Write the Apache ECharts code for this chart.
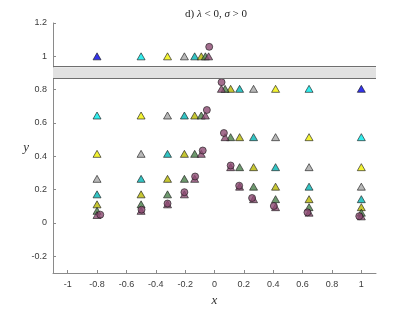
<!DOCTYPE html>
<html>
<head>
<meta charset="utf-8">
<script src="https://cdn.jsdelivr.net/npm/echarts@6/dist/echarts.min.js"></script>
<style>html,body{margin:0;padding:0;background:#fff;}#c{width:415px;height:312px;}</style>
</head>
<body>
<div id="c"></div>
<script>
// Tick labels
const xTicks = [-1, -0.8, -0.6, -0.4, -0.2, 0, 0.2, 0.4, 0.6, 0.8, 1];
const yTicks = [-0.2, 0, 0.2, 0.4, 0.6, 0.8, 1, 1.2];
// Shaded band (y range)
const bandY = [0.87, 0.935];

// Series values as [x, y] pairs (triangles, one series per colour)
const s0Blue = [[-0.8, 1.0], [1.0, 0.805]];
const s1Cyan = [[-0.8, 0.645], [-0.5, 1.0], [1.0, 0.515], [0.644, 0.805]];
const s2Yellow = [[-0.8, 0.415], [-0.5, 0.645], [-0.32, 1.0], [1.0, 0.335], [0.644, 0.515], [0.416, 0.805]];
const s3Gray = [[-0.8, 0.265], [-0.5, 0.415], [-0.32, 0.645], [-0.205, 1.0], [1.0, 0.218], [0.644, 0.335], [0.416, 0.515], [0.266, 0.805]];
const s4Teal = [[-0.8, 0.172], [-0.5, 0.265], [-0.32, 0.415], [-0.205, 0.645], [-0.135, 1.0], [1.0, 0.143], [0.644, 0.218], [0.416, 0.335], [0.266, 0.515], [0.171, 0.805]];
const s5Olive = [[-0.8, 0.112], [-0.5, 0.172], [-0.32, 0.265], [-0.205, 0.415], [-0.135, 0.645], [-0.09, 1.0], [1.0, 0.095], [0.644, 0.143], [0.416, 0.218], [0.266, 0.335], [0.171, 0.515], [0.11, 0.805]];
const s6Green = [[-0.8, 0.073], [-0.5, 0.112], [-0.32, 0.172], [-0.205, 0.265], [-0.135, 0.415], [-0.09, 0.645], [-0.062, 1.0], [1.0, 0.062], [0.644, 0.095], [0.416, 0.143], [0.266, 0.218], [0.171, 0.335], [0.11, 0.515], [0.072, 0.805]];
const s7Purple = [[-0.8, 0.048], [-0.5, 0.073], [-0.32, 0.112], [-0.205, 0.172], [-0.135, 0.265], [-0.09, 0.415], [-0.062, 0.645], [-0.04, 1.0], [1.0, 0.04], [0.644, 0.062], [0.416, 0.095], [0.266, 0.143], [0.171, 0.218], [0.11, 0.335], [0.072, 0.515], [0.047, 0.805]];
// Purple circles
const circles = [[-0.036, 1.057], [-0.052, 0.678], [-0.08, 0.435], [-0.132, 0.279], [-0.205, 0.185], [-0.32, 0.117], [-0.497, 0.08], [-0.778, 0.05],
  [0.048, 0.845], [0.064, 0.54], [0.11, 0.345], [0.168, 0.224], [0.256, 0.15], [0.404, 0.102], [0.633, 0.064], [0.986, 0.041]];

const triSeries = [
  {data: s0Blue, color: '#0000e6'},
  {data: s1Cyan, color: '#00eaea'},
  {data: s2Yellow, color: '#f0f000'},
  {data: s3Gray, color: '#a6a6a6'},
  {data: s4Teal, color: '#00b5b5'},
  {data: s5Olive, color: '#b8b800'},
  {data: s6Green, color: '#4a7f4a'},
  {data: s7Purple, color: '#8c4a72'}
];

const fmt = v => String(Math.round(v * 10) / 10);
const labelColor = '#3a3a3a';
const axisColor = '#8a8a8a';

const series = [];
series.push({
  type: 'scatter', data: [], silent: true,
  markArea: {silent: true, itemStyle: {color: '#e1e1e1'}, data: [[{yAxis: bandY[0]}, {yAxis: bandY[1]}]]},
  markLine: {silent: true, symbol: 'none', label: {show: false}, lineStyle: {color: '#6e6e6e', width: 1, type: 'solid'},
    data: [{yAxis: bandY[0]}, {yAxis: bandY[1]}], animation: false}
});
triSeries.forEach(s => series.push({
  type: 'scatter', data: s.data, symbol: 'triangle', symbolSize: [8, 7],
  itemStyle: {color: s.color, borderColor: '#1a1a1a', borderWidth: 0.8}
}));
series.push({
  type: 'scatter', data: circles, symbol: 'circle', symbolSize: 7,
  itemStyle: {color: '#8c4a72', borderColor: '#1a1a1a', borderWidth: 0.8}
});

const chart = echarts.init(document.getElementById('c'), null, {renderer: 'canvas'});
chart.setOption({
  animation: false,
  backgroundColor: '#ffffff',
  title: {
    text: '{n|d) }{i|λ}{n| < 0, }{i|σ}{n| > 0}',
    left: 211, top: 4, textAlign: 'center',
    textStyle: {fontWeight: 'normal', rich: {
      n: {fontFamily: 'Liberation Serif', fontWeight: 'normal', fontSize: 11, color: '#222'},
      i: {fontFamily: 'Liberation Serif', fontWeight: 'normal', fontStyle: 'italic', fontSize: 11, color: '#222'}
    }}
  },
  grid: {left: 53, right: 39, top: 23, bottom: 34, containLabel: false},
  xAxis: {
    type: 'value', min: -1.1, max: 1.1,
    name: 'x', nameLocation: 'middle', nameGap: 21,
    nameTextStyle: {fontFamily: 'Liberation Serif', fontStyle: 'italic', fontSize: 13, color: '#333'},
    axisLine: {show: true, onZero: false, lineStyle: {color: axisColor, width: 1}},
    axisTick: {show: true, inside: true, length: 3, customValues: xTicks, lineStyle: {color: axisColor}},
    axisLabel: {customValues: xTicks, formatter: fmt, fontFamily: 'Liberation Sans', fontSize: 9, color: labelColor, margin: 7},
    splitLine: {show: false}
  },
  yAxis: {
    type: 'value', min: -0.3, max: 1.2,
    name: 'y', nameLocation: 'middle', nameGap: 24, nameRotate: 0, nameMoveOverlap: false,
    nameTextStyle: {fontFamily: 'Liberation Serif', fontStyle: 'italic', fontSize: 13, color: '#333', padding: [0, 0, 12, 0]},
    axisLine: {show: true, onZero: false, lineStyle: {color: axisColor, width: 1}},
    axisTick: {show: true, inside: true, length: 3, customValues: yTicks, lineStyle: {color: axisColor}},
    axisLabel: {customValues: yTicks, formatter: fmt, fontFamily: 'Liberation Sans', fontSize: 9, color: labelColor, margin: 6},
    splitLine: {show: false}
  },
  series: series
});
</script>
</body>
</html>
